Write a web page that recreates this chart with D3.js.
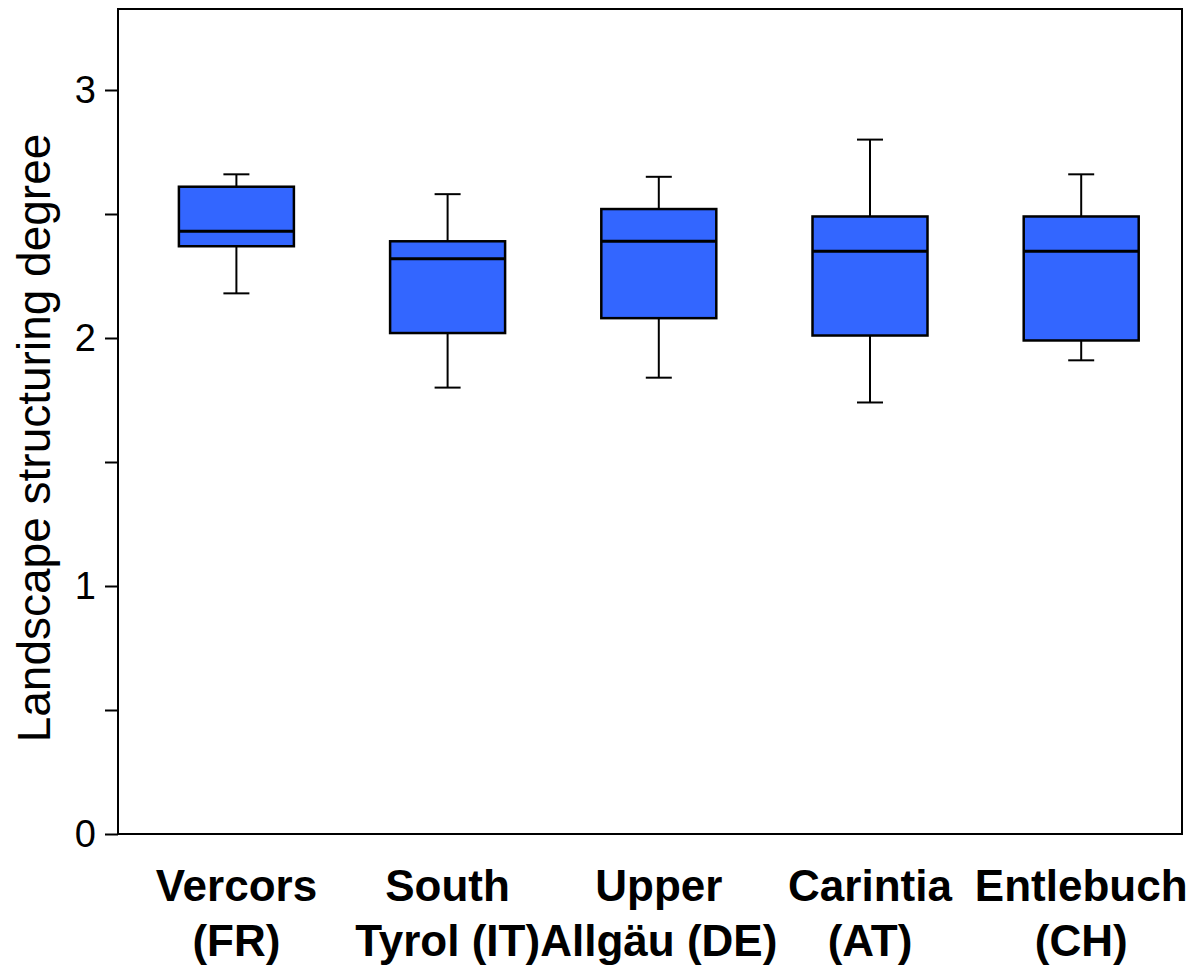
<!DOCTYPE html>
<html>
<head>
<meta charset="utf-8">
<script src="https://cdnjs.cloudflare.com/ajax/libs/d3/7.8.5/d3.min.js"></script>
<style>
  body { margin: 0; background: #fff; }
  text { font-family: Arial, "Liberation Sans", sans-serif; }
</style>
</head>
<body>
<svg id="chart" width="1201" height="968"></svg>
<script>
// regions, each label split in two lines
var regions = [
  ['Vercors', '(FR)'],
  ['South', 'Tyrol (IT)'],
  ['Upper', 'Allgäu (DE)'],
  ['Carintia', '(AT)'],
  ['Entlebuch', '(CH)']
];
// box statistics
var whiskerLow  = [2.18, 1.80, 1.84, 1.74, 1.91];
var q1          = [2.37, 2.02, 2.08, 2.01, 1.99];
var medians     = [2.43, 2.32, 2.39, 2.35, 2.35];
var q3          = [2.61, 2.39, 2.52, 2.49, 2.49];
var whiskerHigh = [2.66, 2.58, 2.65, 2.80, 2.66];

var yTicks = [0, 0.5, 1, 1.5, 2, 2.5, 3];

var svg = d3.select('#chart');
var plotL = 118, plotR = 1182, plotT = 9, plotB = 834;

var y = d3.scaleLinear().domain([0, 3]).range([834, 90]);
var x = d3.scaleLinear().domain([1, 5]).range([236.4, 1081.2]);
var boxW = 115, capW = 26;

// frame
svg.append('rect')
   .attr('x', plotL).attr('y', plotT)
   .attr('width', plotR - plotL).attr('height', plotB - plotT)
   .attr('fill', 'none').attr('stroke', 'black').attr('stroke-width', 2);

// y axis
var yAxis = d3.axisLeft(y)
    .tickValues(yTicks)
    .tickSize(13)
    .tickPadding(9)
    .tickFormat(function(d) { return d % 1 === 0 ? d : ''; });

var ga = svg.append('g')
    .attr('transform', 'translate(' + plotL + ',0)')
    .call(yAxis);
ga.select('.domain').remove();
ga.selectAll('line').attr('stroke', 'black').attr('stroke-width', 2);
ga.selectAll('text')
  .attr('font-size', 38)
  .attr('fill', 'black')
  .style('font-family', 'Arial, "Liberation Sans", sans-serif');

svg.append('text')
   .attr('transform', 'translate(50,438) rotate(-90)')
   .attr('text-anchor', 'middle')
   .attr('font-size', 46)
   .text('Landscape structuring degree');

// boxes
var boxes = svg.append('g').selectAll('g')
    .data(regions)
    .enter().append('g');

boxes.append('line')
     .attr('x1', function(d, i) { return x(i + 1); })
     .attr('x2', function(d, i) { return x(i + 1); })
     .attr('y1', function(d, i) { return y(whiskerLow[i]); })
     .attr('y2', function(d, i) { return y(whiskerHigh[i]); })
     .attr('stroke', 'black').attr('stroke-width', 2);

[whiskerLow, whiskerHigh].forEach(function(arr) {
  boxes.append('line')
       .attr('x1', function(d, i) { return x(i + 1) - capW / 2; })
       .attr('x2', function(d, i) { return x(i + 1) + capW / 2; })
       .attr('y1', function(d, i) { return y(arr[i]); })
       .attr('y2', function(d, i) { return y(arr[i]); })
       .attr('stroke', 'black').attr('stroke-width', 2);
});

boxes.append('rect')
     .attr('x', function(d, i) { return x(i + 1) - boxW / 2; })
     .attr('y', function(d, i) { return y(q3[i]); })
     .attr('width', boxW)
     .attr('height', function(d, i) { return y(q1[i]) - y(q3[i]); })
     .attr('fill', '#3366ff')
     .attr('stroke', 'black').attr('stroke-width', 2.5);

boxes.append('line')
     .attr('x1', function(d, i) { return x(i + 1) - boxW / 2; })
     .attr('x2', function(d, i) { return x(i + 1) + boxW / 2; })
     .attr('y1', function(d, i) { return y(medians[i]); })
     .attr('y2', function(d, i) { return y(medians[i]); })
     .attr('stroke', 'black').attr('stroke-width', 3);

// category labels
var lab = svg.append('g').selectAll('text')
    .data(regions)
    .enter().append('text')
    .attr('text-anchor', 'middle')
    .attr('font-size', 44)
    .attr('font-weight', 'bold');

lab.append('tspan')
   .attr('x', function(d, i) { return x(i + 1); })
   .attr('y', 901)
   .text(function(d) { return d[0]; });
lab.append('tspan')
   .attr('x', function(d, i) { return x(i + 1); })
   .attr('y', 956)
   .text(function(d) { return d[1]; });
</script>
</body>
</html>
